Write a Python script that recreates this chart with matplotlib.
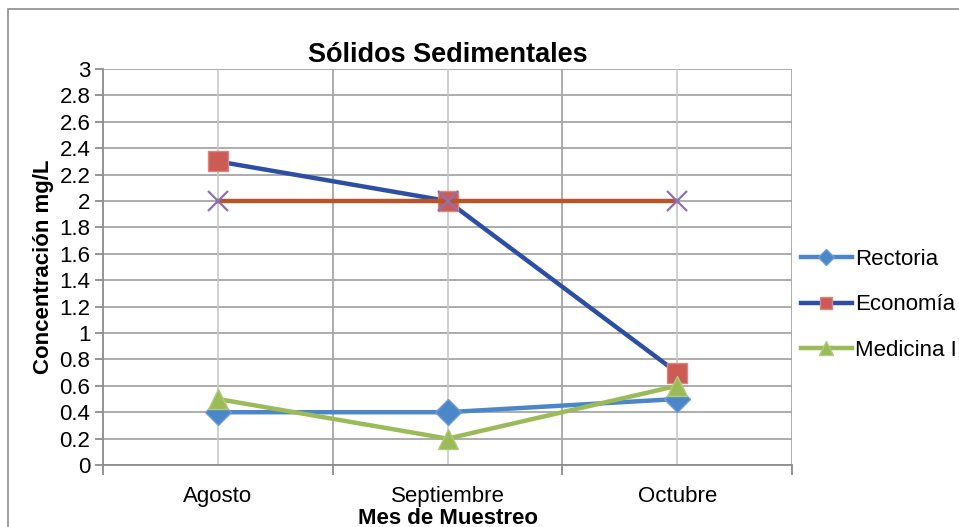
import matplotlib.pyplot as plt
from matplotlib.patches import Rectangle

plt.rcParams['font.family'] = ['Liberation Sans', 'DejaVu Sans']

meses = ["Agosto", "Septiembre", "Octubre"]
rectoria = [0.4, 0.4, 0.5]
economia = [2.3, 2.0, 0.7]
medicina = [0.5, 0.2, 0.6]
serie4 = [2.0, 2.0, 2.0]
y_ticks = [0, 0.2, 0.4, 0.6, 0.8, 1, 1.2, 1.4, 1.6, 1.8, 2, 2.2, 2.4, 2.6, 2.8, 3]

fig = plt.figure(figsize=(9.59, 5.27), dpi=100)
# chart area border (Excel style)
fig.patches.append(Rectangle((8 / 959, -0.05), 1.2, (527 - 9) / 527 + 0.05,
                             transform=fig.transFigure, fill=False,
                             edgecolor="#8c8c8c", linewidth=1.2))

ax = fig.add_axes([103 / 959, (527 - 465) / 527, (792 - 103) / 959, (465 - 69) / 527])
x = list(range(len(meses)))

# grid
for yv in y_ticks:
    ax.axhline(yv, color="#a6a6a6", linewidth=1.3, zorder=0)
for xv in x:
    ax.axvline(xv, color="#c8c8c8", linewidth=1.2, zorder=0)
for xv in [0.5, 1.5, 2.5]:
    ax.axvline(xv, color="#a6a6a6", linewidth=1.3, zorder=0)

l1, = ax.plot(x, rectoria, color="#4A86C8", linewidth=3.2, marker="D", markersize=13,
              markerfacecolor="#4A86C8", markeredgecolor="#6d9bd3", label="Rectoria", zorder=3)
l2, = ax.plot(x, economia, color="#2D4FA3", linewidth=3.2, marker="s", markersize=14,
              markerfacecolor="#CD5B55", markeredgecolor="#d98580", label="Economía", zorder=3)
l3, = ax.plot(x, medicina, color="#9BBB59", linewidth=3.2, marker="^", markersize=15,
              markerfacecolor="#9BBB59", markeredgecolor="#b0cb7f", label="Medicina I", zorder=4)
l4, = ax.plot(x, serie4, color="#B5562A", linewidth=3.2, marker="x", markersize=15,
              markeredgecolor="#8D72B2", markeredgewidth=1.6, zorder=5)

ax.set_xlim(-0.5, 2.5)
ax.set_ylim(0, 3)
ax.set_yticks(y_ticks)
ax.set_yticklabels([f"{v:g}" for v in y_ticks], fontsize=16)
ax.set_xticks(x)
ax.set_xticklabels(meses, fontsize=16)
ax.tick_params(axis="x", length=0, pad=15)
ax.set_xticks([-0.5, 0.5, 1.5, 2.5], minor=True)
ax.tick_params(axis="x", which="minor", length=7, color="#8c8c8c", width=1.3)
ax.tick_params(axis="y", length=6, color="#8c8c8c", width=1.3, pad=3)

for side in ["top", "right"]:
    ax.spines[side].set_visible(False)
ax.spines["left"].set_color("#8c8c8c")
ax.spines["left"].set_linewidth(1.3)
ax.spines["bottom"].set_color("#8c8c8c")
ax.spines["bottom"].set_linewidth(1.3)

ax.set_title("Sólidos Sedimentales", fontsize=19.5, fontweight="bold", pad=5)
ax.set_xlabel("Mes de Muestreo", fontsize=16, fontweight="bold", labelpad=1)
ax.set_ylabel("Concentración mg/L", fontsize=16, fontweight="bold", labelpad=4)

fig.legend(handles=[l1, l2, l3], loc="center left", bbox_to_anchor=(792 / 959, (527 - 305) / 527),
           frameon=False, fontsize=16, handlelength=2.3, handletextpad=0.12,
           labelspacing=1.1, borderaxespad=0, markerscale=0.65)

fig.savefig("out.png", dpi=100)
